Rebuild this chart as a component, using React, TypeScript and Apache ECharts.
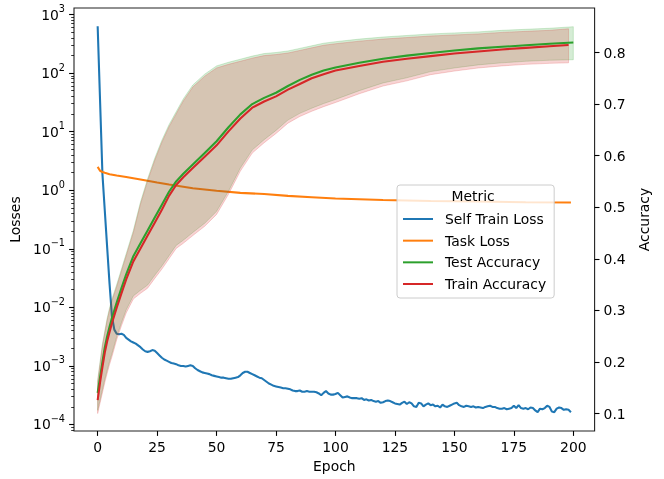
import React, { useEffect, useRef } from 'react';
import * as echarts from 'echarts';

const FONT = 'DejaVu Sans';

// Self train loss, log10 of value, epochs 0..199
const selfTrainLossLog10 = [
  2.80, 1.54, 0.28, -0.35, -0.98, -1.60, -2.15, -2.38, -2.45, -2.46,
  -2.45, -2.47, -2.52, -2.55, -2.58, -2.60, -2.62, -2.65, -2.68, -2.72,
  -2.75, -2.76, -2.75, -2.73, -2.74, -2.78, -2.82, -2.86, -2.89, -2.91,
  -2.93, -2.95, -2.96, -2.97, -2.99, -3.00, -3.00, -3.01, -3.00, -2.99,
  -3.00, -3.04, -3.07, -3.09, -3.11, -3.12, -3.13, -3.14, -3.16, -3.17,
  -3.18, -3.19, -3.20, -3.20, -3.21, -3.22, -3.22, -3.21, -3.20, -3.19,
  -3.16, -3.12, -3.10, -3.10, -3.12, -3.14, -3.16, -3.18, -3.20, -3.21,
  -3.24, -3.27, -3.30, -3.32, -3.34, -3.35, -3.36, -3.37, -3.38, -3.38,
  -3.39, -3.40, -3.42, -3.43, -3.43, -3.42, -3.44, -3.44, -3.43, -3.44,
  -3.44, -3.44, -3.45, -3.47, -3.50, -3.46, -3.43, -3.47, -3.49, -3.49,
  -3.48, -3.46, -3.50, -3.54, -3.53, -3.52, -3.54, -3.55, -3.55, -3.55,
  -3.56, -3.55, -3.58, -3.57, -3.59, -3.58, -3.60, -3.61, -3.60, -3.63,
  -3.62, -3.60, -3.59, -3.60, -3.62, -3.64, -3.65, -3.66, -3.63, -3.61,
  -3.65, -3.62, -3.64, -3.69, -3.70, -3.63, -3.64, -3.69, -3.66, -3.64,
  -3.67, -3.66, -3.69, -3.68, -3.71, -3.66, -3.69, -3.70, -3.68, -3.66,
  -3.64, -3.63, -3.67, -3.69, -3.70, -3.68, -3.69, -3.70, -3.69, -3.71,
  -3.70, -3.71, -3.72, -3.70, -3.69, -3.68, -3.70, -3.70, -3.72, -3.73,
  -3.73, -3.72, -3.74, -3.73, -3.72, -3.68, -3.72, -3.67, -3.72, -3.73,
  -3.72, -3.74, -3.71, -3.72, -3.76, -3.79, -3.73, -3.74, -3.72, -3.68,
  -3.70, -3.78, -3.79, -3.73, -3.71, -3.72, -3.75, -3.74, -3.75, -3.79,
];

const taskLossEpochs = [0, 1, 2, 3, 5, 8, 12, 18, 25, 30, 40, 50, 60, 70, 80, 90, 100, 120, 140, 160, 180, 199];
const taskLoss = [2.5, 2.15, 2.05, 1.98, 1.88, 1.78, 1.68, 1.52, 1.35, 1.25, 1.08, 0.98, 0.9, 0.86, 0.8, 0.76, 0.72, 0.68, 0.655, 0.64, 0.625, 0.615];

const testEpochs = [0, 1, 2, 3, 4, 5, 6, 8, 10, 12, 15, 18, 21, 24, 27, 30, 33, 36, 40, 45, 50, 55, 60, 65, 70, 75, 80, 85, 90, 95, 100, 110, 120, 130, 140, 150, 160, 170, 180, 190, 200];
const testAcc = [0.140, 0.170, 0.200, 0.228, 0.250, 0.268, 0.285, 0.315, 0.343, 0.370, 0.405, 0.430, 0.455, 0.480, 0.505, 0.530, 0.550, 0.565, 0.583, 0.605, 0.628, 0.655, 0.680, 0.700, 0.712, 0.722, 0.735, 0.747, 0.757, 0.765, 0.771, 0.780, 0.788, 0.794, 0.799, 0.804, 0.808, 0.811, 0.814, 0.817, 0.8195];
const testAccHi = [0.165, 0.200, 0.235, 0.260, 0.285, 0.305, 0.322, 0.350, 0.380, 0.410, 0.455, 0.510, 0.555, 0.595, 0.630, 0.660, 0.685, 0.710, 0.737, 0.758, 0.774, 0.781, 0.787, 0.793, 0.798, 0.800, 0.803, 0.808, 0.813, 0.818, 0.821, 0.826, 0.830, 0.833, 0.836, 0.838, 0.840, 0.843, 0.845, 0.847, 0.850];
const testAccLo = [0.106, 0.126, 0.146, 0.166, 0.184, 0.201, 0.216, 0.249, 0.276, 0.301, 0.328, 0.339, 0.349, 0.368, 0.386, 0.406, 0.426, 0.436, 0.451, 0.469, 0.492, 0.531, 0.576, 0.611, 0.631, 0.649, 0.669, 0.682, 0.692, 0.701, 0.709, 0.726, 0.741, 0.751, 0.763, 0.770, 0.776, 0.780, 0.783, 0.785, 0.786];

const trainEpochs = [0, 1, 2, 3, 4, 5, 6, 8, 10, 12, 15, 18, 21, 24, 27, 30, 33, 36, 40, 45, 50, 55, 60, 65, 70, 75, 80, 85, 90, 95, 100, 110, 120, 130, 140, 150, 160, 170, 180, 190, 198];
const trainAcc = [0.126, 0.160, 0.190, 0.218, 0.240, 0.258, 0.275, 0.305, 0.333, 0.360, 0.395, 0.420, 0.445, 0.470, 0.495, 0.522, 0.543, 0.558, 0.576, 0.598, 0.620, 0.647, 0.672, 0.693, 0.705, 0.715, 0.728, 0.739, 0.750, 0.758, 0.765, 0.774, 0.782, 0.788, 0.793, 0.798, 0.802, 0.806, 0.809, 0.812, 0.8145];
const trainAccHi = [0.161, 0.196, 0.231, 0.256, 0.281, 0.301, 0.318, 0.346, 0.376, 0.406, 0.451, 0.506, 0.551, 0.591, 0.626, 0.656, 0.681, 0.706, 0.733, 0.754, 0.770, 0.777, 0.783, 0.789, 0.794, 0.796, 0.799, 0.804, 0.809, 0.814, 0.817, 0.822, 0.826, 0.829, 0.832, 0.834, 0.836, 0.839, 0.841, 0.843, 0.846];
const trainAccLo = [0.100, 0.120, 0.140, 0.160, 0.178, 0.195, 0.210, 0.243, 0.270, 0.295, 0.322, 0.333, 0.343, 0.362, 0.380, 0.400, 0.420, 0.430, 0.445, 0.463, 0.486, 0.525, 0.570, 0.605, 0.625, 0.643, 0.663, 0.676, 0.686, 0.695, 0.703, 0.720, 0.735, 0.745, 0.757, 0.764, 0.770, 0.774, 0.777, 0.779, 0.780];

const xTicks = [0, 25, 50, 75, 100, 125, 150, 175, 200];
const lossTicks = [1e-4, 1e-3, 1e-2, 1e-1, 1, 10, 100, 1000];
const accTicks = [0.1, 0.2, 0.3, 0.4, 0.5, 0.6, 0.7, 0.8];
const legendNames = ['Self Train Loss', 'Task Loss', 'Test Accuracy', 'Train Accuracy'];

const C_BLUE = '#1f77b4';
const C_ORANGE = '#ff7f0e';
const C_GREEN = '#2ca02c';
const C_RED = '#d62728';

const LOG_MIN = Math.pow(10, -4.111);
const LOG_MAX = Math.pow(10, 3.111);

function minorLogTicks(): number[] {
  const out: number[] = [];
  for (let k = -5; k <= 3; k++) {
    for (let m = 2; m <= 9; m++) {
      const v = m * Math.pow(10, k);
      if (v >= LOG_MIN && v <= LOG_MAX) out.push(v);
    }
  }
  return out;
}

function bandSeries(name: string, ep: number[], lo: number[], hi: number[], color: string) {
  return {
    type: 'custom',
    name,
    xAxisIndex: 0,
    yAxisIndex: 1,
    silent: true,
    z: 3,
    data: ep.map((e, i) => [e, lo[i], hi[i]]),
    encode: { x: 0, y: [1, 2] },
    renderItem: (params: any, api: any) => {
      if (params.dataIndex !== 0) return null;
      const pts: number[][] = [];
      for (let i = 0; i < ep.length; i++) pts.push(api.coord([ep[i], hi[i]]));
      for (let i = ep.length - 1; i >= 0; i--) pts.push(api.coord([ep[i], lo[i]]));
      return {
        type: 'polygon',
        shape: { points: pts },
        style: { fill: color, stroke: color, lineWidth: 1 },
      };
    },
  };
}

export default function App() {
  const ref = useRef<HTMLDivElement>(null);
  useEffect(() => {
    const chart = echarts.init(ref.current!, null, { renderer: 'svg' });
    const tickStyle = { color: '#000', width: 1.1 };
    const noLine = { show: false, onZero: false };
    const option: any = {
      animation: false,
      textStyle: { fontFamily: FONT },
      grid: {
        left: 74, right: 69.4, top: 8, bottom: 48,
        show: true, borderColor: '#222', borderWidth: 1.1, backgroundColor: 'transparent',
      },
      xAxis: [{
        type: 'value', min: -9.95, max: 208.95,
        name: 'Epoch', nameLocation: 'middle', nameGap: 27,
        nameTextStyle: { fontSize: 13.9, color: '#000', fontFamily: FONT },
        axisLine: noLine,
        splitLine: { show: false },
        axisTick: { show: true, inside: false, length: 4.9, lineStyle: tickStyle, customValues: xTicks },
        axisLabel: { customValues: xTicks, margin: 9, fontSize: 13.9, color: '#000', fontFamily: FONT },
      }],
      yAxis: [
        {
          type: 'log', min: LOG_MIN, max: LOG_MAX, position: 'left',
          name: 'Losses', nameLocation: 'middle', nameGap: 44,
          nameTextStyle: { fontSize: 13.9, color: '#000', fontFamily: FONT },
          axisLine: noLine,
          splitLine: { show: false },
          minorTick: { show: false },
          axisTick: { show: true, length: 4.9, lineStyle: tickStyle, customValues: lossTicks },
          axisLabel: {
            customValues: lossTicks, margin: 9,
            formatter: (v: number) => {
              const e = Math.round(Math.log10(v));
              const s = e < 0 ? '\u2212' + String(-e) : String(e);
              return '{b|10}{s|' + s + '}';
            },
            rich: {
              b: { fontSize: 13.9, fontFamily: FONT, color: '#000', lineHeight: 22, verticalAlign: 'middle' },
              s: { fontSize: 9.7, fontFamily: FONT, color: '#000', lineHeight: 11, verticalAlign: 'top' },
            },
          },
        },
        {
          type: 'value', min: 0.0661, max: 0.8863, position: 'right',
          name: 'Accuracy', nameLocation: 'middle', nameGap: 34,
          nameTextStyle: { fontSize: 13.9, color: '#000', fontFamily: FONT },
          axisLine: noLine,
          splitLine: { show: false },
          axisTick: { show: true, length: 4.9, lineStyle: tickStyle, customValues: accTicks },
          axisLabel: {
            customValues: accTicks, margin: 9, fontSize: 13.9, color: '#000', fontFamily: FONT,
            formatter: (v: number) => v.toFixed(1),
          },
        },
        {
          type: 'log', min: LOG_MIN, max: LOG_MAX, position: 'left',
          axisLine: noLine,
          splitLine: { show: false },
          axisLabel: { show: false },
          axisTick: { show: true, length: 2.8, lineStyle: { color: '#000', width: 0.8 }, customValues: minorLogTicks() },
        },
      ],
      legend: {
        data: legendNames,
        orient: 'vertical',
        left: 397, top: 185,
        padding: [26, 8, 6, 6],
        itemWidth: 30, itemHeight: 2, itemGap: 5.67,
        icon: 'rect',
        backgroundColor: 'rgba(255,255,255,0.8)',
        borderColor: '#cccccc', borderWidth: 1, borderRadius: 3,
        textStyle: { fontSize: 13.9, fontFamily: FONT, color: '#000', lineHeight: 16, padding: [0, 0, 0, 7] },
        selectedMode: false,
        z: 10,
      },
      graphic: [{
        type: 'text', left: 476.5 - 25, top: 189, z: 100,
        style: { text: 'Metric', fontSize: 13.9, fontFamily: FONT, fill: '#000', width: 50, align: 'center' },
      }],
      series: [
        {
          type: 'line', name: 'Self Train Loss', xAxisIndex: 0, yAxisIndex: 0,
          data: selfTrainLossLog10.map((v, i) => [i, Math.pow(10, v)]),
          showSymbol: false, symbol: 'none', color: C_BLUE,
          lineStyle: { color: C_BLUE, width: 2.08 }, z: 2,
        },
        {
          type: 'line', name: 'Task Loss', xAxisIndex: 0, yAxisIndex: 0,
          data: taskLossEpochs.map((e, i) => [e, taskLoss[i]]),
          showSymbol: false, symbol: 'none', color: C_ORANGE,
          lineStyle: { color: C_ORANGE, width: 2.08 }, z: 2,
        },
        bandSeries('Test band', testEpochs, testAccLo, testAccHi, 'rgba(44,160,44,0.2)'),
        bandSeries('Train band', trainEpochs, trainAccLo, trainAccHi, 'rgba(214,39,40,0.2)'),
        {
          type: 'line', name: 'Test Accuracy', xAxisIndex: 0, yAxisIndex: 1,
          data: testEpochs.map((e, i) => [e, testAcc[i]]),
          showSymbol: false, symbol: 'none', color: C_GREEN,
          lineStyle: { color: C_GREEN, width: 2.08 }, z: 4,
        },
        {
          type: 'line', name: 'Train Accuracy', xAxisIndex: 0, yAxisIndex: 1,
          data: trainEpochs.map((e, i) => [e, trainAcc[i]]),
          showSymbol: false, symbol: 'none', color: C_RED,
          lineStyle: { color: C_RED, width: 2.08 }, z: 4,
        },
      ],
    };
    chart.setOption(option);
    return () => chart.dispose();
  }, []);
  return <div ref={ref} style={{ position: 'fixed', left: 0, top: 0, width: 664, height: 479 }} />;
}
